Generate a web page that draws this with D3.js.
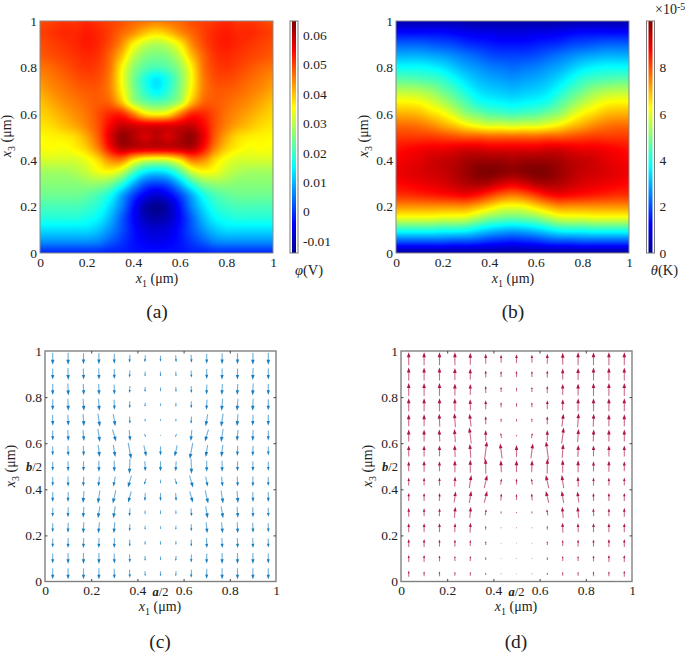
<!DOCTYPE html>
<html><head><meta charset="utf-8">
<script src="https://cdn.jsdelivr.net/npm/d3@7/dist/d3.min.js"></script>
<style>html,body{margin:0;padding:0;background:#fff}svg{display:block}text{font-family:"Liberation Serif",serif;fill:#222}</style>
</head><body><svg id="c" width="685" height="652"></svg>
<script>
// Half-grids: columns x1 = 0..0.5 step 0.05, rows x3 = 1..0 step 0.05 (mirrored about x1 = 0.5)
const phiMilliVolt = [
[49,50,51,51,52,51,50,49,47,46,45],
[50,51,52,52,53,52,50,47,44,40,38],
[49,50,51,52,53,52,49,44,36,31,29],
[48,49,50,51,52,51,47,40,31,26,25],
[46,47,48.5,50,51,50,46,36,27,22.5,21],
[44,45.5,47,48.5,49.5,49,45,35,25,18,14],
[42,44,45.5,47,48,48,45,36,26,19,15],
[40,42,44,45.5,47,48,47,40,29,24,22],
[38.5,40,42,44,46,49,52,52,45,37,35],
[37,38,40,42,45,49,55,59,58,57,57],
[35.5,36,36.5,38,42,48,57,63,61,58,60],
[34.5,35,34.5,36,39,45,54,60,59,58,58],
[32,32,32,32,34,38,44,45,37,32,31],
[28,28,28,29,31,34,35,31,22,15,13],
[26,26,26,26,27,27,25,19,10,3,1],
[24,24,24,24,23,21,17,9,1,-5,-8],
[21,21,21,21,20,18,13,6,-3,-11,-14],
[18,18,18,18,17,15,10,3,-4,-10,-12],
[13,13,13,13,13,11,7,2,-3,-7,-8],
[7,7,7,7,7,6,3,0,-3,-5,-6],
[-1,-1,-1,-1,-1,-1,-2,-2,-3,-3,-3]];
const theta1e5 = [
[.4,.4,.4,.4,.4,.4,.3,.3,.3,.3,.3],
[1.3,1.3,1.3,1.3,1.3,1.2,1.1,1,1,.9,.9],
[2.2,2.2,2.2,2.1,2,1.9,1.7,1.6,1.5,1.4,1.4],
[3,3,3,2.9,2.8,2.6,2.4,2.2,2,1.9,1.9],
[3.8,3.8,3.8,3.7,3.5,3.2,2.9,2.7,2.5,2.4,2.3],
[4.6,4.6,4.5,4.4,4.2,3.8,3.4,3.1,2.9,2.8,2.7],
[5.5,5.5,5.4,5.2,4.8,4.4,3.9,3.5,3.3,3.2,3.1],
[6.3,6.3,6.2,5.9,5.5,5,4.5,4,3.8,3.7,3.6],
[7,7,6.9,6.6,6.3,5.8,5.2,4.9,4.6,4.5,4.4],
[7.7,7.7,7.6,7.4,7.1,6.8,6.4,6.1,5.9,5.9,5.8],
[8.2,8.2,8.2,8.2,8.1,8,7.9,7.9,7.8,7.8,7.8],
[8.6,8.7,8.8,8.9,8.9,9,9.1,9.1,9,9,9],
[8.8,8.9,9,9.2,9.3,9.4,9.6,9.7,9.7,9.7,9.6],
[8.9,9,9.1,9.2,9.3,9.5,9.7,9.95,10,9.9,9.8],
[8.7,8.8,8.9,9,9.1,9.3,9.5,9.6,9.5,9.2,9],
[8.3,8.3,8.4,8.5,8.6,8.7,8.8,8.6,8.2,7.8,7.6],
[7.3,7.3,7.3,7.3,7.3,7.3,7.3,7,6.6,6.2,6.1],
[6,6,6,6,5.9,5.9,5.8,5.4,5,4.8,4.7],
[4.1,4.1,4.1,4.1,4,4,3.9,3.6,3.3,3.1,3],
[2.1,2.1,2.1,2.1,2.1,2,2,1.9,1.7,1.6,1.5],
[.3,.3,.3,.3,.3,.3,.3,.3,.3,.3,.3]];
const phiDomain = [-14.1, 64.8];
const thetaDomain = [0, 10];
const phiTicks = [-10,0,10,20,30,40,50,60];
const phiTickLabels = ["-0.01","0","0.01","0.02","0.03","0.04","0.05","0.06"];
const thetaTicks = [0,2,4,6,8];

// Quiver half-grids: 8 columns from the left edge to the centre, 15 rows from top to bottom.
// "mag" = component along the main direction; "lat" = sideways component (+ = to the right on the left half).
const elecMag = [
[12,12,11,11,10,8,7,6],
[11,12,11,11,10,7,5,5],
[11,12,11,11,10,7,5,4],
[11,12,12,12,10,7,4,3],
[11,11,12,13,12,7,3,2],
[10,11,11,13,12,11,3,1],
[9,10,10,12,12,16,11,9],
[9,10,10,11,11,15,10,10],
[9,10,10,10,10,12,6,4],
[10,10,12,13,13,11,8,8],
[9,10,11,12,12,8,4,4],
[9,10,11,11,11,7,4,3],
[9,10,10,10,10,7,4,4],
[10,11,11,11,10,8,5,4],
[11,11,11,11,10,8,5,5]];
const elecLat = [
[0,0,0,0,0,-.5,-.5,0],
[0,.3,.3,.3,0,-.5,-.3,0],
[0,.5,.5,.5,.3,-.3,-.2,0],
[0,.5,1,1,.5,0,0,0],
[.2,.5,1,2,2,.5,0,0],
[.2,.5,1,2,3.5,1,1.5,0],
[0,.3,.5,1.5,2,3,2.5,0],
[0,0,0,0,0,-.5,.5,0],
[0,0,-.5,-1,-2,-3.5,-2,0],
[0,-.3,-1,-2,-3,-3,-.5,0],
[0,-.3,-.8,-2,-2,-.7,-.2,0],
[0,-.3,-.5,-1,-1,-.2,0,0],
[0,-.2,-.3,-.3,-.3,0,0,0],
[0,0,0,0,.2,.3,.3,0],
[0,0,0,0,.2,.3,.3,0]];
const heatMag = [
[13,13,13,13,12,10,8,9],
[13,13,13,12,11,7,6,6],
[13,13,13,12,11,7,5,4],
[13,13,13,13,11,9,5,4],
[12,12,13,14,13,8,4,3],
[12,12,12,13,16,11,5,2],
[11,11,11,12,14,19,15,12],
[10,11,10,12,13,15,12,12],
[8,8,8,10,13,13,6,6],
[8,8,8,11,12,12,7,6],
[9,8,8,11,11,6,2.5,1.5],
[9,9,9,9,10,4,1,1],
[8,8,7,7,6,4,.7,.7],
[7,7,6,5,5,3,.8,.7],
[6,5,5,4,4,2.5,.8,.7]];
const heatLat = [
[0,0,0,0,0,0,0,0],
[0,0,0,0,0,0,0,0],
[0,0,0,0,0,0,0,0],
[0,0,0,-.2,-.3,0,0,0],
[0,0,-.5,-1,-1.5,0,0,0],
[0,0,-.5,-1,-2,0,-1,0],
[0,0,0,-.5,-1,2.5,-2,0],
[0,0,0,0,0,-.3,-.5,0],
[0,0,0,.5,2,3,1,0],
[0,0,.3,1.5,2,3,.5,0],
[0,0,.3,1,1,1,0,0],
[0,0,0,.5,.5,0,0,0],
[0,0,0,0,0,0,0,0],
[0,0,0,0,0,0,0,0],
[0,0,0,0,0,0,0,0]];

const unitTicks = [0,.2,.4,.6,.8,1];
const unitLabels = ["0","0.2","0.4","0.6","0.8","1"];

// ---------- helpers ----------
const svg = d3.select("#c");
const jet = d3.scaleLinear()
  .domain([0,.125,.375,.625,.875,1])
  .range(["#00008f","#0000ff","#00ffff","#ffff00","#ff0000","#800000"])
  .interpolate(d3.interpolateRgb).clamp(true);
const mirror = g => g.map(r => r.concat(r.slice(0,-1).reverse()));
const cr = (p0,p1,p2,p3,t)=>.5*((2*p1)+(-p0+p2)*t+(2*p0-5*p1+4*p2-p3)*t*t+(-p0+3*p1-3*p2+p3)*t*t*t);
function sample(g,fx,fy){
  const ny=g.length,nx=g[0].length;
  const X=Math.min(fx*(nx-1),nx-1.0001),Y=Math.min(fy*(ny-1),ny-1.0001);
  const i=Math.floor(X),j=Math.floor(Y),tx=X-i,ty=Y-j;
  const c=(a,n)=>Math.max(0,Math.min(n-1,a));
  const rows=[-1,0,1,2].map(d=>{const r=g[c(j+d,ny)];
    return cr(r[c(i-1,nx)],r[c(i,nx)],r[c(i+1,nx)],r[c(i+2,nx)],tx);});
  return cr(rows[0],rows[1],rows[2],rows[3],ty);
}
function rasterImage(w,h,fn){
  const cv=document.createElement("canvas");cv.width=w;cv.height=h;
  const ctx=cv.getContext("2d"),im=ctx.createImageData(w,h);
  for(let y=0;y<h;y++)for(let x=0;x<w;x++){
    const c=d3.rgb(fn((x+.5)/w,(y+.5)/h)),k=4*(y*w+x);
    im.data[k]=c.r;im.data[k+1]=c.g;im.data[k+2]=c.b;im.data[k+3]=255;}
  ctx.putImageData(im,0,0);return cv.toDataURL();
}
function axisLabel(g,x,y,sub,rotate){
  const t=g.append("text").attr("font-size",14).attr("text-anchor","middle")
    .attr("transform",`translate(${x},${y})`+(rotate?" rotate(-90)":""));
  t.append("tspan").attr("font-style","italic").text("x");
  t.append("tspan").attr("font-size",10).attr("dy",4).text(sub);
  t.append("tspan").attr("dy",-4).text(" (μm)");
}
function caption(x,y,s){svg.append("text").attr("x",x).attr("y",y).attr("font-size",19.5)
  .attr("text-anchor","middle").text(s);}
function styleAxis(g,color){g.selectAll("text").attr("font-size",13.5).attr("fill","#222");
  g.selectAll("path.domain").remove();g.selectAll("line").attr("stroke",color);}
function tickMarks(axis,tf,color){
  const g=svg.append("g").attr("transform",tf).call(axis.tickSize(2.5));
  g.selectAll("text").remove();g.selectAll("path.domain").remove();
  g.selectAll("line").attr("stroke",color);
}

function heatPanel(o){
  const x=d3.scaleLinear([0,1],[o.left,o.left+233]);
  const y=d3.scaleLinear([0,1],[253,21]);
  const full=mirror(o.grid);
  const col=d3.scaleLinear(o.domain,[0,1]);
  svg.append("image").attr("x",o.left).attr("y",21).attr("width",233).attr("height",232)
    .attr("href",rasterImage(233,232,(u,v)=>jet(col(sample(full,u,v)))));
  svg.append("rect").attr("x",o.left).attr("y",21).attr("width",233).attr("height",232)
    .attr("fill","none").attr("stroke","#888").attr("stroke-width",1);
  const ax=svg.append("g").attr("transform","translate(0,253)")
    .call(d3.axisBottom(x).tickValues(unitTicks).tickFormat((d,i)=>unitLabels[i]).tickSize(0).tickPadding(4));
  styleAxis(ax,"#666");
  const ay=svg.append("g").attr("transform",`translate(${o.left},0)`)
    .call(d3.axisLeft(y).tickValues(unitTicks).tickFormat((d,i)=>unitLabels[i]).tickSize(0).tickPadding(3));
  styleAxis(ay,"#666");
  axisLabel(svg,o.left+117,283,"1",false);
  axisLabel(svg,o.left-o.ylab,136,"3",true);
  // colour bar
  const cy=d3.scaleLinear(o.domain,[253,21]);
  svg.append("image").attr("x",o.cbar).attr("y",21).attr("width",8).attr("height",232)
    .attr("href",rasterImage(4,232,(u,v)=>jet(1-v)));
  svg.append("rect").attr("x",o.cbar).attr("y",21).attr("width",8).attr("height",232)
    .attr("fill","none").attr("stroke","#777").attr("stroke-width",1);
  const ac=svg.append("g").attr("transform",`translate(${o.cbar+8},0)`)
    .call(d3.axisRight(cy).tickValues(o.ticks).tickFormat((d,i)=>o.labels?o.labels[i]:d).tickSize(0).tickPadding(5));
  styleAxis(ac,"#666");
  caption(o.left+117,318,o.cap);
}

function quiverPanel(o){
  const x=d3.scaleLinear([0,1],[o.left,o.left+231]);
  const y=d3.scaleLinear([0,1],[581.5,351]);
  const g=svg.append("g");
  const cells=[];
  o.mag.forEach((row,r)=>{
    for(let c=0;c<15;c++){
      const h=c<8?c:14-c, s=c<8?1:-1;
      cells.push({fx:(c+.5)/15,fy:1-(r+.5)/15,lat:s*o.lat[r][h],mag:o.dir*row[h]});
    }
  });
  cells.forEach(d=>{
    const cx=x(d.fx),cy=y(d.fy),dx=d.lat,dy=-d.mag;
    const len=Math.hypot(dx,dy);
    const ux=dx/len,uy=dy/len;
    const tx=cx+dx/2,ty=cy+dy/2,bx=cx-dx/2,by=cy-dy/2;
    const hl=Math.min(5,len*.42),hw=hl*.36;
    g.append("line").attr("x1",bx).attr("y1",by).attr("x2",tx-ux*hl*.6).attr("y2",ty-uy*hl*.6)
      .attr("stroke",o.color).attr("stroke-width",1.1).attr("stroke-opacity",.62);
    const nx=-uy,ny=ux,ax=tx-ux*hl,ay=ty-uy*hl;
    g.append("path").attr("d",d3.line()([[tx,ty],[ax+nx*hw,ay+ny*hw],[ax-nx*hw,ay-ny*hw]])+"Z").attr("fill",o.color);
  });
  svg.append("rect").attr("x",o.left).attr("y",351).attr("width",231).attr("height",230.5)
    .attr("fill","none").attr("stroke","#808080").attr("stroke-width",1.4);
  const ax=svg.append("g").attr("transform","translate(0,581.5)")
    .call(d3.axisBottom(x).tickValues(unitTicks).tickFormat((d,i)=>unitLabels[i]).tickSize(0).tickPadding(4));
  styleAxis(ax,"#444");
  const ay=svg.append("g").attr("transform",`translate(${o.left},0)`)
    .call(d3.axisLeft(y).tickValues(unitTicks).tickFormat((d,i)=>unitLabels[i]).tickSize(0).tickPadding(3));
  styleAxis(ay,"#444");
  const inner=unitTicks.slice(1,5);
  tickMarks(d3.axisTop(x).tickValues(inner),"translate(0,581.5)","#444");
  tickMarks(d3.axisBottom(x).tickValues(inner),"translate(0,351)","#444");
  tickMarks(d3.axisRight(y).tickValues(inner),`translate(${o.left},0)`,"#444");
  tickMarks(d3.axisLeft(y).tickValues(inner),`translate(${o.left+231},0)`,"#444");
  // symbolic extra tick labels
  const lab=(tx,ty,a,anchor)=>{const t=svg.append("text").attr("x",tx).attr("y",ty).attr("font-size",12.5).attr("text-anchor",anchor);
    t.append("tspan").attr("font-style","italic").attr("font-weight","bold").text(a);t.append("tspan").text("/2");};
  lab(x(.5),596,"a","middle");
  lab(o.left-3,471,"b","end");
  axisLabel(svg,o.left+115,611,"1",false);
  axisLabel(svg,o.left-o.ylab,466,"3",true);
  caption(o.left+115,648,o.cap);
}

// ---------- panels ----------
heatPanel({left:40,cbar:290,ylab:29,grid:phiMilliVolt,domain:phiDomain,ticks:phiTicks,labels:phiTickLabels,cap:"(a)"});
heatPanel({left:396,cbar:646.5,ylab:28,grid:theta1e5,domain:thetaDomain,ticks:thetaTicks,cap:"(b)"});
quiverPanel({left:45,ylab:30,mag:elecMag,lat:elecLat,dir:-1,color:"#1a7fc2",cap:"(c)"});
quiverPanel({left:401,ylab:29,mag:heatMag,lat:heatLat,dir:1,color:"#ad1742",cap:"(d)"});

// colour-bar titles
const t1=svg.append("text").attr("x",309).attr("y",275).attr("font-size",14.5).attr("text-anchor","middle");
t1.append("tspan").attr("font-style","italic").text("φ");t1.append("tspan").text("(V)");
const t2=svg.append("text").attr("x",664.5).attr("y",275).attr("font-size",14.5).attr("text-anchor","middle");
t2.append("tspan").attr("font-style","italic").text("θ");t2.append("tspan").text("(K)");
const t3=svg.append("text").attr("x",655).attr("y",14).attr("font-size",14);
t3.append("tspan").text("×10");t3.append("tspan").attr("font-size",10).attr("dy",-4).text("-5");
</script></body></html>
